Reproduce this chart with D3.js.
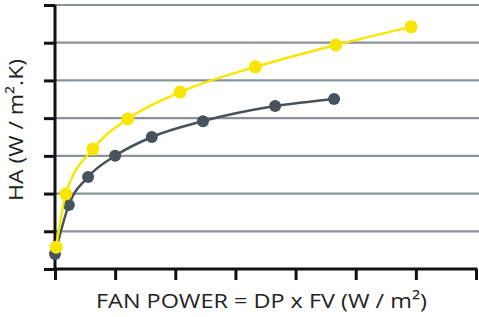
<!DOCTYPE html>
<html>
<head>
<meta charset="utf-8">
<script src="https://cdn.jsdelivr.net/npm/d3@7"></script>
<style>
  body { margin: 0; background: #fff; }
  svg text { font-family: "Open Sans", sans-serif; fill: #222; }
</style>
</head>
<body>
<svg id="chart"></svg>
<script>
const w = 479;
const h = 317;

// fan power (axis units) and heat transfer coefficient (axis units)
const darkX = [0.0, 0.23, 0.55, 1.0, 1.61, 2.46, 3.66, 4.64];
const darkY = [0.40, 1.70, 2.44, 3.0, 3.50, 3.92, 4.32, 4.51];
const yellowX = [0.02, 0.18, 0.63, 1.21, 2.08, 3.33, 4.67, 5.92];
const yellowY = [0.58, 1.99, 3.18, 3.98, 4.69, 5.36, 5.94, 6.42];
const xTicks = [0, 1, 2, 3, 4, 5, 6, 7];
const yTicks = [0, 1, 2, 3, 4, 5, 6, 7];

const svg = d3.select("#chart")
  .attr("width", w)
  .attr("height", h);

const x = d3.scaleLinear().domain([0, 7]).range([55, 476]);
const y = d3.scaleLinear().domain([0, 7]).range([269, 5]);

// grid lines
svg.append("g")
  .selectAll("line")
  .data(yTicks.filter(t => t > 0))
  .enter()
  .append("line")
  .attr("x1", x(0))
  .attr("x2", w)
  .attr("y1", d => y(d))
  .attr("y2", d => y(d))
  .attr("stroke", "#89929a")
  .attr("stroke-width", 2.2);

const xAxis = d3.axisBottom(x).tickValues(xTicks).tickSize(11).tickFormat("");
const yAxis = d3.axisLeft(y).tickValues(yTicks).tickSize(11).tickFormat("");

const gx = svg.append("g")
  .attr("transform", `translate(0, ${y(0)})`)
  .call(xAxis);
const gy = svg.append("g")
  .attr("transform", `translate(${x(0)}, 0)`)
  .call(yAxis);

[gx, gy].forEach(g => {
  g.select(".domain").attr("stroke", "#111").attr("stroke-width", 3);
  g.selectAll(".tick line").attr("stroke", "#111").attr("stroke-width", 3);
});
gx.select(".domain").attr("d", `M${x(0) - 1.5},0H${x(7) + 1.5}`);
gy.select(".domain").attr("d", `M0,${y(0) + 1.5}V${y(7)}`);

const series = [
  { xs: darkX, ys: darkY, color: "#47525b", r: 6 },
  { xs: yellowX, ys: yellowY, color: "#f8e600", r: 6.5 }
];

const line = d3.line()
  .x(d => x(d[0]))
  .y(d => y(d[1]))
  .curve(d3.curveMonotoneX);

series.forEach(s => {
  const pts = s.xs.map((v, i) => [v, s.ys[i]]);
  svg.append("path")
    .datum(pts)
    .attr("d", line)
    .attr("fill", "none")
    .attr("stroke", s.color)
    .attr("stroke-width", 2.5);
  svg.append("g")
    .selectAll("circle")
    .data(pts)
    .enter()
    .append("circle")
    .attr("cx", d => x(d[0]))
    .attr("cy", d => y(d[1]))
    .attr("r", s.r)
    .attr("fill", s.color);
});

svg.append("text")
  .attr("x", 261.5)
  .attr("y", 308)
  .attr("text-anchor", "middle")
  .attr("font-size", 20)
  .attr("textLength", 331)
  .attr("lengthAdjust", "spacingAndGlyphs")
  .text("FAN POWER = DP x FV (W / m²)");

svg.append("text")
  .attr("transform", "translate(23, 130) rotate(-90)")
  .attr("text-anchor", "middle")
  .attr("font-size", 20)
  .attr("textLength", 142)
  .attr("lengthAdjust", "spacingAndGlyphs")
  .text("HA (W / m².K)");
</script>
</body>
</html>
